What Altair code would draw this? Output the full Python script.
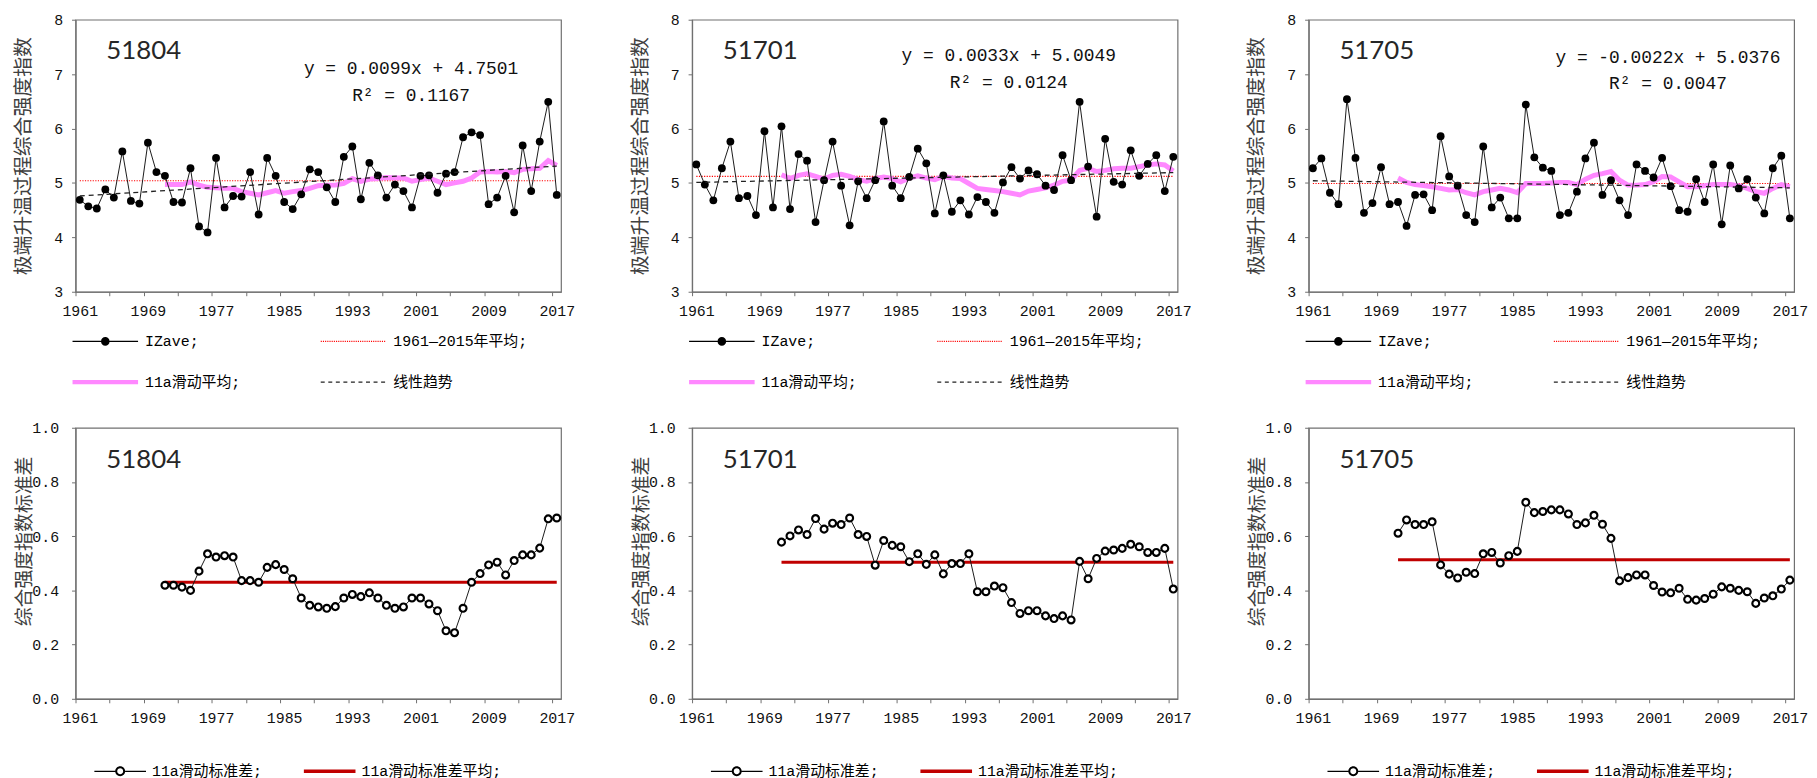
import altair as alt
import pandas as pd

# ---------------- data ----------------
years = list(range(1961, 2018))
ma_years = list(range(1971, 2018))
stations = ["51804", "51701", "51705"]

izave_51804 = [4.69, 4.57, 4.53, 4.88, 4.73, 5.58, 4.67, 4.62, 5.74, 5.20,
               5.13, 4.65, 4.64, 5.27, 4.20, 4.09, 5.46, 4.55, 4.76, 4.75,
               5.20, 4.42, 5.46, 5.13, 4.65, 4.52, 4.79, 5.25, 5.20, 4.92,
               4.65, 5.48, 5.67, 4.70, 5.37, 5.14, 4.73, 4.97, 4.85, 4.55,
               5.13, 5.14, 4.82, 5.17, 5.20, 5.84, 5.93, 5.88, 4.61, 4.73,
               5.13, 4.46, 5.69, 4.85, 5.76, 6.49, 4.78]
izave_51701 = [5.34, 4.97, 4.68, 5.27, 5.76, 4.72, 4.76, 4.41, 5.95, 4.55,
               6.04, 4.52, 5.53, 5.41, 4.28, 5.05, 5.76, 4.95, 4.22, 5.03,
               4.72, 5.05, 6.13, 4.95, 4.72, 5.11, 5.63, 5.36, 4.44, 5.14,
               4.47, 4.68, 4.42, 4.74, 4.65, 4.45, 5.01, 5.29, 5.08, 5.23,
               5.16, 4.95, 4.87, 5.51, 5.05, 6.49, 5.30, 4.38, 5.81, 5.02,
               4.97, 5.60, 5.13, 5.35, 5.51, 4.85, 5.48]
izave_51705 = [5.27, 5.45, 4.82, 4.61, 6.54, 5.46, 4.45, 4.63, 5.29, 4.61,
               4.65, 4.21, 4.78, 4.79, 4.50, 5.86, 5.12, 4.95, 4.41, 4.28,
               5.67, 4.55, 4.73, 4.35, 4.35, 6.44, 5.47, 5.28, 5.22, 4.41,
               4.45, 4.84, 5.45, 5.74, 4.78, 5.05, 4.68, 4.41, 5.34, 5.22,
               5.10, 5.46, 4.94, 4.50, 4.47, 5.07, 4.65, 5.34, 4.24, 5.32,
               4.90, 5.07, 4.73, 4.44, 5.27, 5.50, 4.35]

ma_51804 = [4.97, 4.97, 4.97, 5.02, 4.96, 4.92, 4.91, 4.90, 4.90, 4.84,
            4.81, 4.78, 4.82, 4.86, 4.81, 4.84, 4.86, 4.90, 4.95, 4.96,
            4.96, 4.99, 5.08, 5.03, 5.07, 5.08, 5.10, 5.09, 5.09, 5.03,
            5.06, 5.09, 5.03, 4.97, 5.00, 5.03, 5.09, 5.20, 5.21, 5.20,
            5.21, 5.19, 5.25, 5.26, 5.27, 5.41, 5.32]
ma_51701 = [5.15, 5.08, 5.14, 5.17, 5.12, 5.07, 5.14, 5.16, 5.12, 5.06,
            5.03, 5.08, 5.11, 5.08, 5.02, 5.09, 5.13, 5.09, 5.06, 5.12,
            5.09, 5.08, 4.99, 4.90, 4.88, 4.86, 4.84, 4.81, 4.78, 4.85,
            4.88, 4.91, 4.96, 5.03, 5.05, 5.23, 5.27, 5.21, 5.23, 5.26,
            5.27, 5.27, 5.30, 5.33, 5.35, 5.33, 5.22]
ma_51705 = [5.09, 5.01, 4.97, 4.95, 4.93, 4.90, 4.87, 4.88, 4.82, 4.78,
            4.84, 4.87, 4.90, 4.87, 4.82, 4.99, 4.99, 4.99, 5.00, 5.01,
            5.01, 4.97, 5.07, 5.14, 5.17, 5.21, 5.05, 4.96, 4.96, 4.97,
            5.02, 5.12, 5.11, 5.02, 4.93, 4.93, 4.95, 4.97, 4.97, 4.97,
            4.95, 4.90, 4.84, 4.81, 4.90, 4.97, 4.93]

mean_top = [5.04, 5.12, 4.99]
trend_51804 = [4.76, 5.31]
trend_51701 = [5.01, 5.19]
trend_51705 = [5.04, 4.91]
equations = ["y = 0.0099x + 4.7501", "y = 0.0033x + 5.0049", "y = -0.0022x + 5.0376"]
r2_texts = ["R\u00b2 = 0.1167", "R\u00b2 = 0.0124", "R\u00b2 = 0.0047"]

sd_51804 = [0.419, 0.419, 0.412, 0.400, 0.471, 0.535, 0.523, 0.528, 0.523, 0.436,
            0.436, 0.430, 0.485, 0.495, 0.477, 0.443, 0.372, 0.345, 0.339, 0.334,
            0.340, 0.372, 0.385, 0.377, 0.391, 0.372, 0.345, 0.334, 0.339, 0.372,
            0.372, 0.350, 0.325, 0.251, 0.244, 0.334, 0.430, 0.462, 0.494, 0.504,
            0.457, 0.510, 0.531, 0.531, 0.556, 0.664, 0.667]
sd_51701 = [0.578, 0.601, 0.623, 0.606, 0.665, 0.626, 0.648, 0.643, 0.667, 0.606,
            0.599, 0.493, 0.584, 0.566, 0.561, 0.506, 0.535, 0.496, 0.531, 0.461,
            0.499, 0.499, 0.535, 0.395, 0.395, 0.416, 0.410, 0.355, 0.315, 0.325,
            0.325, 0.306, 0.296, 0.306, 0.291, 0.507, 0.443, 0.518, 0.545, 0.549,
            0.555, 0.570, 0.561, 0.540, 0.540, 0.555, 0.405]
sd_51705 = [0.611, 0.660, 0.643, 0.643, 0.653, 0.494, 0.460, 0.446, 0.467, 0.462,
            0.535, 0.540, 0.501, 0.528, 0.544, 0.725, 0.687, 0.691, 0.697, 0.697,
            0.682, 0.643, 0.649, 0.677, 0.644, 0.592, 0.435, 0.447, 0.457, 0.457,
            0.418, 0.394, 0.391, 0.408, 0.367, 0.364, 0.370, 0.386, 0.413, 0.408,
            0.400, 0.395, 0.352, 0.372, 0.380, 0.405, 0.438]
sd_mean = [0.430, 0.504, 0.513]

top_names = ["IZave;", "1961\u20142015年平均;", "11a滑动平均;", "线性趋势"]
bot_names = ["11a滑动标准差;", "11a滑动标准差平均;"]
y_title_top = "极端升温过程综合强度指数"
y_title_bot = "综合强度指数标准差"

izave = [izave_51804, izave_51701, izave_51705]
ma11 = [ma_51804, ma_51701, ma_51705]
trends = [trend_51804, trend_51701, trend_51705]
sds = [sd_51804, sd_51701, sd_51705]

# ---------------- layout / style ----------------
W, H_TOP, H_BOT = 489, 274, 273
HALF = W / 57 / 2
eq_pos = [(338, 50, 76.6), (319, 36.6, 63.3), (362, 38.3, 65.0)]
MONO = "Liberation Mono, Noto Sans CJK SC"
CJK = "Noto Sans CJK SC"
PINK = "#FF88FF"
DARKRED = "#C00000"


def rect(x0, x1, hh):
    return f"M{x0:.4f} {-hh:.4f}H{x1:.4f}V{hh:.4f}H{x0:.4f}Z"


def circ(r, sweep=1):
    return (f"M{r:.4f} 0A{r:.4f} {r:.4f} 0 1 {sweep} {-r:.4f} 0"
            f"A{r:.4f} {r:.4f} 0 1 {sweep} {r:.4f} 0Z")


# top legend symbols (66 px wide -> 33 px per unit)
S = 33.0
t = 0.6 / S
p_izave = rect(-1, 1, t) + circ(4.3 / S)
p_dot = ""
x = -1.0
while x < 1.0:
    p_dot += rect(x, min(x + 1.1 / S, 1.0), t)
    x += 2.2 / S
p_ma = rect(-1, 1, 2.2 / S)
p_dash = ""
x = -1.0
while x < 1.0:
    p_dash += rect(x, min(x + 4.0 / S, 1.0), t)
    x += 7.6 / S
top_paths = [p_izave, p_dot, p_ma, p_dash]
top_colors = ["#000000", "#FF0000", PINK, "#222222"]

# bottom legend symbols (52 px wide -> 26 px per unit)
S2 = 26.0
t2 = 0.6 / S2
ro, ri = 5.0 / S2, 3.0 / S2
p_sd = rect(-1, -ro, t2) + rect(ro, 1, t2) + circ(ro, 1) + circ(ri, 0)
p_sdm = rect(-1, 1, 1.7 / S2)
bot_paths = [p_sd, p_sdm]
bot_colors = ["#000000", DARKRED]

xscale = alt.Scale(domain=[1960.5, 2017.5], nice=False, zero=False)
tick_vals = [1960.5 + 4 * k for k in range(15)]
xaxis = alt.Axis(title=None, values=tick_vals,
                 labelExpr="(datum.value + 0.5 - 1961) % 8 == 0 ? '' + (datum.value + 0.5) : ''",
                 labelOffset=HALF, labelFlush=False, labelOverlap=False,
                 tickSize=4, labelPadding=8, grid=False)


def top_panel(k):
    st = stations[k]
    X = alt.X("year:Q", scale=xscale, axis=xaxis)
    Y = alt.Y("v:Q", scale=alt.Scale(domain=[3, 8], nice=False, zero=False),
              axis=alt.Axis(title=y_title_top, values=[3, 4, 5, 6, 7, 8], format="d",
                            tickSize=4, labelPadding=9, grid=False,
                            titleX=-52, titleY=H_TOP / 2, titleAngle=270,
                            titleBaseline="middle", titleFontSize=20))
    df = pd.DataFrame({"year": years, "v": izave[k]})
    ma_df = pd.DataFrame({"year": ma_years, "v": ma11[k]})
    mean_df = pd.DataFrame({"x0": [years[0]], "x1": [years[-1]], "v": [mean_top[k]]})
    tr_df = pd.DataFrame({"year": [years[0], years[-1]], "v": trends[k]})

    mean_l = alt.Chart(mean_df).mark_rule(color="#FF0000", strokeWidth=1.2, strokeDash=[1.2, 1.4]).encode(
        x=alt.X("x0:Q", scale=xscale, axis=xaxis), x2="x1:Q", y=Y)
    ma_l = alt.Chart(ma_df).mark_line(color=PINK, strokeWidth=5).encode(x=X, y=Y)
    line = alt.Chart(df).mark_line(color="#1a1a1a", strokeWidth=1).encode(x=X, y=Y)
    pts = alt.Chart(df).mark_circle(color="#000000", size=62, opacity=1).encode(x=X, y=Y)
    tr_l = alt.Chart(tr_df).mark_line(color="#222222", strokeWidth=1.3, strokeDash=[5, 4]).encode(x=X, y=Y)

    sid = alt.Chart(pd.DataFrame({"t": [st]})).mark_text(
        font="Lato", fontSize=26, align="left", baseline="middle", color="#262626").encode(
        text="t:N", x=alt.value(31), y=alt.value(31.6))
    ex, ey1, ey2 = eq_pos[k]
    eq = alt.Chart(pd.DataFrame({"t": [equations[k]]})).mark_text(
        font=MONO, fontSize=18, align="center", baseline="middle", color="#111111").encode(
        text="t:N", x=alt.value(ex), y=alt.value(ey1))
    r2 = alt.Chart(pd.DataFrame({"t": [r2_texts[k]]})).mark_text(
        font=MONO, fontSize=18, align="center", baseline="middle", color="#111111").encode(
        text="t:N", x=alt.value(ex), y=alt.value(ey2))

    leg = alt.Legend(title=None, orient="none", legendX=-3, legendY=291,
                     direction="horizontal", columns=2, symbolSize=66 * 66,
                     labelOffset=7, columnPadding=80, rowPadding=-15, padding=0,
                     labelFont=MONO, labelFontSize=15, labelColor="#000000",
                     symbolStrokeWidth=0, labelLimit=400)
    leg_df = pd.DataFrame({"series": top_names})
    leg_layer = alt.Chart(leg_df).mark_point(filled=True, opacity=1).encode(
        shape=alt.Shape("series:N", scale=alt.Scale(domain=top_names, range=top_paths), legend=leg),
        color=alt.Color("series:N", scale=alt.Scale(domain=top_names, range=top_colors), legend=leg),
    ).transform_filter("false")

    return alt.layer(mean_l, ma_l, line, pts, tr_l, sid, eq, r2, leg_layer).properties(
        width=W, height=H_TOP)


def bottom_panel(k):
    st = stations[k]
    X = alt.X("year:Q", scale=xscale, axis=xaxis)
    Y = alt.Y("v:Q", scale=alt.Scale(domain=[0, 1], nice=False, zero=False),
              axis=alt.Axis(title=y_title_bot, values=[0, 0.2, 0.4, 0.6, 0.8, 1.0], format=".1f",
                            tickSize=4, labelPadding=13, grid=False,
                            titleX=-51, titleY=114, titleAngle=270,
                            titleBaseline="middle", titleFontSize=19))
    df = pd.DataFrame({"year": ma_years, "v": sds[k]})
    mean_df = pd.DataFrame({"x0": [ma_years[0]], "x1": [ma_years[-1]], "v": [sd_mean[k]]})

    mean_l = alt.Chart(mean_df).mark_rule(color=DARKRED, strokeWidth=3).encode(
        x=alt.X("x0:Q", scale=xscale, axis=xaxis), x2="x1:Q", y=Y)
    line = alt.Chart(df).mark_line(color="#1a1a1a", strokeWidth=1).encode(x=X, y=Y)
    pts = alt.Chart(df).mark_point(shape="circle", filled=True, fill="#ffffff", stroke="#000000",
                                   strokeWidth=2.2, size=48, opacity=1).encode(x=X, y=Y)
    sid = alt.Chart(pd.DataFrame({"t": [st]})).mark_text(
        font="Lato", fontSize=26, align="left", baseline="middle", color="#262626").encode(
        text="t:N", x=alt.value(31), y=alt.value(32.7))

    leg = alt.Legend(title=None, orient="none", legendX=19, legendY=320,
                     direction="horizontal", columns=2, symbolSize=52 * 52,
                     labelOffset=6, columnPadding=41, rowPadding=10, padding=0,
                     labelFont=MONO, labelFontSize=15, labelColor="#000000",
                     symbolStrokeWidth=0, labelLimit=400)
    leg_df = pd.DataFrame({"series": bot_names})
    leg_layer = alt.Chart(leg_df).mark_point(filled=True, opacity=1).encode(
        shape=alt.Shape("series:N", scale=alt.Scale(domain=bot_names, range=bot_paths), legend=leg),
        color=alt.Color("series:N", scale=alt.Scale(domain=bot_names, range=bot_colors), legend=leg),
    ).transform_filter("false")

    return alt.layer(mean_l, line, pts, sid, leg_layer).properties(width=W, height=H_BOT)


panels = [top_panel(k) for k in range(3)] + [bottom_panel(k) for k in range(3)]

chart = alt.concat(*panels, columns=3, spacing={"row": 137, "column": 132}, bounds="flush").resolve_scale(
    color="independent", shape="independent"
).properties(
    padding={"left": 5, "top": 1, "right": 0, "bottom": 0}, background="white"
).configure_view(
    stroke="#707070", strokeWidth=1.2
).configure_axis(
    domainColor="#707070", tickColor="#707070", domainWidth=1.2,
    labelFont="Liberation Mono", labelFontSize=15, labelColor="#111111",
    titleFont=CJK, titleColor="#404040", titleFontWeight="normal"
)

chart.save("out.html", embed_options={"renderer": "svg", "actions": False})
